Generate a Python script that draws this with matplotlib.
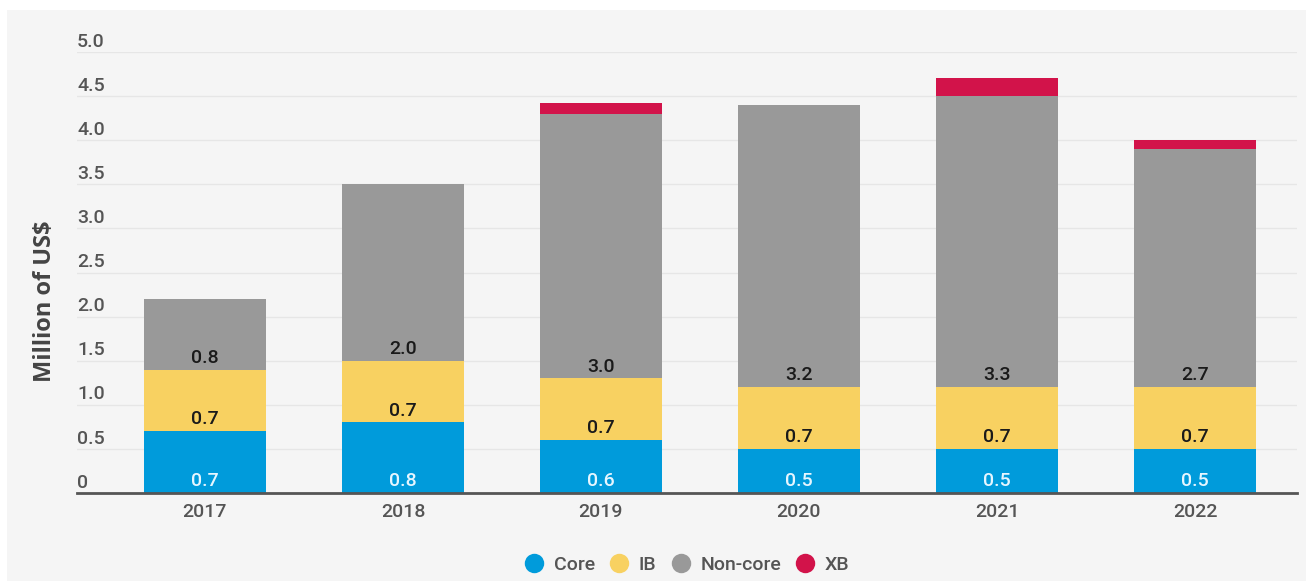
import matplotlib.pyplot as plt
from matplotlib.patches import Rectangle
from matplotlib.lines import Line2D

years = ["2017", "2018", "2019", "2020", "2021", "2022"]
core = [0.7, 0.8, 0.6, 0.5, 0.5, 0.5]
ib = [0.7, 0.7, 0.7, 0.7, 0.7, 0.7]
non_core = [0.8, 2.0, 3.0, 3.2, 3.3, 2.7]
xb = [0.0, 0.0, 0.12, 0.0, 0.2, 0.1]
yticks = [0, 0.5, 1.0, 1.5, 2.0, 2.5, 3.0, 3.5, 4.0, 4.5, 5.0]
ytick_labels = ["0", "0.5", "1.0", "1.5", "2.0", "2.5", "3.0", "3.5", "4.0", "4.5", "5.0"]

colors = {"Core": "#009bdb", "IB": "#f8d161", "Non-core": "#999999", "XB": "#d2134a"}
bg = "#f5f5f5"
txt = "#555555"

plt.rcParams['font.family'] = ['Roboto', 'DejaVu Sans']

fig = plt.figure(figsize=(13.06, 5.81), dpi=100, facecolor="white")
fig.patches.append(Rectangle((7 / 1306, 0), 1 - 7 / 1306, 1 - 10 / 581,
                             transform=fig.transFigure, facecolor=bg,
                             edgecolor="none", zorder=-10))

ax = fig.add_axes([77 / 1306, 1 - 493 / 581, (1297 - 77) / 1306, (493 - 52) / 581])
ax.set_facecolor("none")

x = list(range(len(years)))
w = 0.616
base = [0.0] * len(years)
series = [("Core", core), ("IB", ib), ("Non-core", non_core), ("XB", xb)]
for name, vals in series:
    ax.bar(x, vals, w, bottom=base, color=colors[name], zorder=2)
    if name != "XB":
        for i, v in enumerate(vals):
            ax.annotate(f"{v:.1f}", (x[i], base[i]), xytext=(0, 8.5),
                        textcoords="offset points", ha="center", va="center",
                        fontsize=14, fontweight="medium",
                        color="#e6f6ff" if name == "Core" else "#1a1a1a", zorder=3)
    base = [b + v for b, v in zip(base, vals)]

ax.set_xlim(-0.646, 5.515)
ax.set_ylim(0, 5.0)
ax.set_yticks(yticks)
ax.yaxis.grid(True, color="#e6e6e6", linewidth=1, zorder=0)
ax.set_axisbelow(True)
ax.tick_params(axis="y", length=0, labelleft=False)
for t, lab in zip(yticks, ytick_labels):
    ax.annotate(lab, (0, t), xycoords=("axes fraction", "data"), xytext=(0, 1),
                textcoords="offset points", ha="left", va="bottom",
                fontsize=14, fontweight="medium", color=txt)

ax.set_xticks(x)
ax.set_xticklabels(years, fontsize=14, fontweight="medium", color=txt)
ax.tick_params(axis="x", length=0, pad=7)

for s in ["top", "right", "left"]:
    ax.spines[s].set_visible(False)
ax.spines["bottom"].set_color("#555555")
ax.spines["bottom"].set_linewidth(2)
ax.spines["bottom"].set_zorder(4)

fig.text(45 / 1306, 1 - 301 / 581, "Million of US$", rotation=90, ha="center",
         va="center", fontsize=17, fontweight="bold", color="#444444",
         family=["Open Sans", "DejaVu Sans"])

handles = [Line2D([], [], marker="o", linestyle="none", markersize=14,
                  markerfacecolor=colors[n], markeredgecolor="none") for n, _ in series]
fig.legend(handles, [n for n, _ in series], loc="center",
           bbox_to_anchor=(687 / 1306, 1 - 565 / 581), ncol=4, frameon=False,
           handlelength=1.0, handletextpad=0.5, columnspacing=0.75,
           prop={"size": 14, "weight": "medium"}, labelcolor=txt)

fig.savefig("out.png", dpi=100, facecolor="white")
